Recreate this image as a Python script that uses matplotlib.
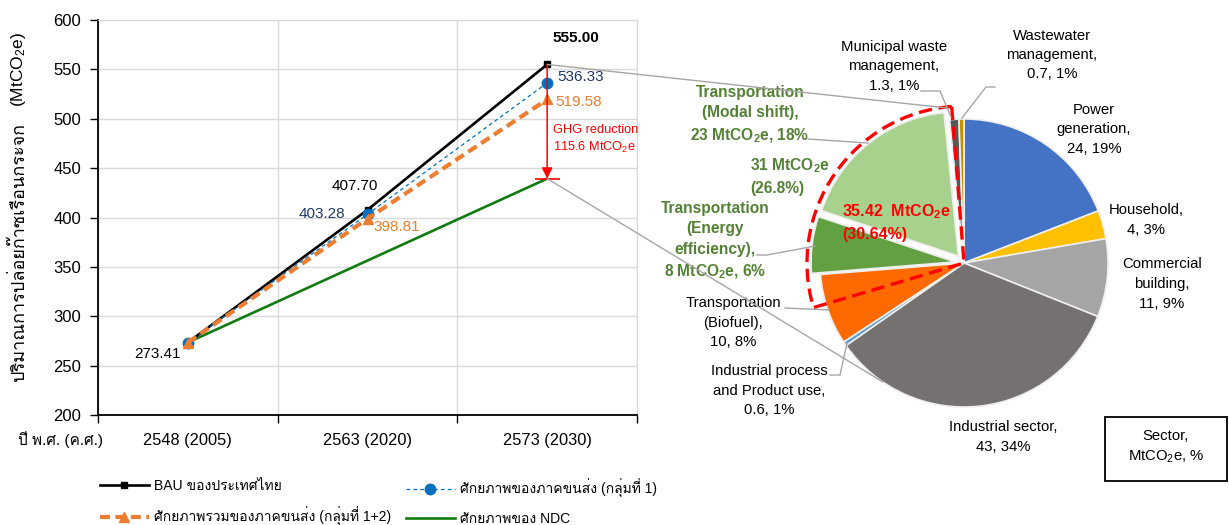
"""Thailand GHG emissions: BAU vs. transport-sector potential, with 2030 sector pie."""
import matplotlib
matplotlib.use("Agg")
import matplotlib.pyplot as plt
from matplotlib import font_manager
from matplotlib.lines import Line2D
from matplotlib.patches import ConnectionPatch, Rectangle, Wedge
from fontTools.ttLib import TTFont


def _font_with(char):
    """First installed family that has a glyph for `char`."""
    for entry in font_manager.fontManager.ttflist:
        try:
            cmap = TTFont(entry.fname, fontNumber=0, lazy=True).getBestCmap()
        except Exception:
            continue
        if cmap and ord(char) in cmap:
            return entry.name
    return None


_names = {f.name for f in font_manager.fontManager.ttflist}
NARROW = "Liberation Sans Narrow" if "Liberation Sans Narrow" in _names else "Liberation Sans"
THAI = _font_with("ก") or "DejaVu Sans"

plt.rcParams["font.family"] = [NARROW, THAI, "DejaVu Sans"]
plt.rcParams["mathtext.default"] = "regular"

# ---- line chart data -------------------------------------------------------
years = ["2548 (2005)", "2563 (2020)", "2573 (2030)"]
bau = [273.41, 407.70, 555.00]
transport_g1 = [273.41, 403.28, 536.33]
transport_g12 = [273.41, 398.81, 519.58]
ndc = [273.41, 356.4, 439.4]

# ---- pie data (2030, MtCO2e) -----------------------------------------------
sectors = [
    "Power\ngeneration,", "Household,", "Commercial\nbuilding,", "Industrial sector,",
    "Industrial process\nand Product use,", "Transportation\n(Biofuel),",
    "Transportation\n(Energy\nefficiency),", "Transportation\n(Modal shift),",
    "Municipal waste\nmanagement,", "Wastewater\nmanagement,",
]
sector_values = [24, 4, 11, 43, 0.6, 10, 8, 23, 1.3, 0.7]
sector_pct = [19, 3, 9, 34, 1, 8, 6, 18, 1, 1]
sector_colors = ["#4472C4", "#FFC000", "#A5A5A5", "#767171", "#5B9BD5",
                 "#FF6A00", "#63A042", "#A9D18E", "#595959", "#BF9000"]
sector_explode = [0, 0, 0, 0, 0, 0, 0.05, 0.05, 0, 0]

W, H = 1229, 525


def fx(x):
    return x / W


def fy(y):
    return 1 - y / H


def leader(points, color="#A6A6A6"):
    xs = [fx(p[0]) for p in points]
    ys = [fy(p[1]) for p in points]
    fig.add_artist(Line2D(xs, ys, transform=fig.transFigure, color=color, lw=1))


fig = plt.figure(figsize=(W / 100, H / 100), dpi=100)

# ---- left: emission pathways -------------------------------------------------
ax = fig.add_axes([fx(98), fy(415), 539 / W, 395 / H])
x = range(len(years))

ax.plot(x, ndc, color="#107C10", lw=1.9, zorder=3)
ax.plot(x, bau, color="black", lw=1.9, marker="s", ms=5, zorder=4)
ax.plot(x, transport_g1, color="#0070C0", lw=0.9, ls=(0, (3, 2.5)),
        marker="o", ms=7.5, zorder=5)
ax.plot(x, transport_g12, color="#ED7D31", lw=3, ls=(0, (2.4, 1.3)),
        marker="^", ms=7.5, zorder=6)

ax.set_xlim(-0.5, 2.5)
ax.set_ylim(200, 600)
ax.set_yticks(range(200, 601, 50))
ax.set_xticks(list(x))
ax.set_xticklabels(years, fontsize=11.8)
ax.set_xticks([-0.5, 0.5, 1.5, 2.5], minor=True)
ax.tick_params(axis="x", which="major", length=0, pad=13)
ax.tick_params(axis="x", which="minor", length=6, direction="out", width=1)
ax.tick_params(axis="y", length=6, direction="out", width=1, labelsize=12, pad=6)
ax.grid(axis="y", color="#D9D9D9", lw=1)
ax.grid(axis="x", which="minor", color="#D9D9D9", lw=1)
ax.set_axisbelow(True)
for side in ("top", "right"):
    ax.spines[side].set_color("#D9D9D9")
for side in ("left", "bottom"):
    ax.spines[side].set_linewidth(1.3)

# value labels: (series, index, offset in points, colour, weight)
value_labels = [
    (bau, 0, (-22, -8), "black", "normal"),
    (bau, 1, (-9, 17), "black", "normal"),
    (transport_g1, 1, (-33, 0), "#203864", "normal"),
    (transport_g12, 1, (21, -6), "#ED7D31", "normal"),
    (bau, 2, (21, 19), "black", "bold"),
    (transport_g1, 2, (24, 4), "#203864", "normal"),
    (transport_g12, 2, (23, -2), "#ED7D31", "normal"),
]
for series, i, off, col, wt in value_labels:
    ax.annotate(f"{series[i]:.2f}", (i, series[i]), xytext=off,
                textcoords="offset points", ha="center", va="center",
                fontsize=11, color=col, fontweight=wt)

# reduction arrow BAU -> NDC in 2030
ax.annotate("", xy=(2, ndc[2]), xytext=(2, bau[2]),
            arrowprops=dict(arrowstyle="-|>", color="red", lw=1.1,
                            mutation_scale=16, shrinkA=0, shrinkB=0), zorder=7)
ax.plot(2, ndc[2], marker="_", ms=18, mew=1.2, color="red", zorder=7)
reduction = bau[2] - ndc[2]
ax.annotate(f"GHG reduction\n{reduction:.1f} MtCO$_2$e", (2, bau[2]),
            xytext=(4, -54), textcoords="offset points", ha="left", va="center",
            fontsize=9.2, color="red", linespacing=1.4)

fig.text(fx(18), fy(440), "ปี พ.ศ. (ค.ศ.)", ha="left", va="center", fontsize=11)
fig.text(fx(19), fy(253), "ปริมาณการปล่อยก๊าซเรือนกระจก",
         rotation=90, ha="center", va="center", fontsize=13)
fig.text(fx(19), fy(70), "(MtCO$_2$e)",
         rotation=90, ha="center", va="center", fontsize=12.5)

# legend in two columns
h_bau = Line2D([], [], color="black", lw=1.9, marker="s", ms=5)
h_g1 = Line2D([], [], color="#0070C0", lw=0.9, ls=(0, (3, 2.5)), marker="o", ms=7.5)
h_g12 = Line2D([], [], color="#ED7D31", lw=3, ls=(0, (2.4, 1.3)), marker="^", ms=7.5)
h_ndc = Line2D([], [], color="#107C10", lw=1.9)
leg_kw = dict(frameon=False, fontsize=10, handlelength=3.5, handletextpad=0.4,
              labelspacing=1.0, loc="upper left", borderaxespad=0, borderpad=0)
fig.legend([h_bau, h_g12], ["BAU ของประเทศไทย", "ศักยภาพรวมของภาคขนส่ง (กลุ่มที่ 1+2)"],
           bbox_to_anchor=(fx(100), fy(479)), **leg_kw)
fig.legend([h_g1, h_ndc], ["ศักยภาพของภาคขนส่ง (กลุ่มที่ 1)", "ศักยภาพของ NDC"],
           bbox_to_anchor=(fx(406), fy(479)), **leg_kw)

# ---- right: 2030 sector breakdown -----------------------------------------------
S = 180
ax_pie = fig.add_axes([fx(964 - S), fy(263 + S), 2 * S / W, 2 * S / H])
ax_pie.pie(sector_values, colors=sector_colors, explode=sector_explode,
           startangle=90, counterclock=False, radius=144 / S,
           wedgeprops=dict(edgecolor="#EEEEEE", linewidth=1.2))
ax_pie.set_xlim(-1, 1)
ax_pie.set_ylim(-1, 1)
ax_pie.axis("off")
ax_pie.add_patch(Wedge((0, 0), 157 / S, 94.5, 196.5, fill=False, edgecolor="red",
                       lw=2.4, ls=(0, (4, 2)), zorder=5))

# connectors from the 2030 points to the highlighted wedge
for val, end in ((bau[2], (947, 108)), (ndc[2], (883, 382))):
    fig.add_artist(ConnectionPatch(xyA=(2, val), coordsA=ax.transData,
                                   xyB=(fx(end[0]), fy(end[1])), coordsB=fig.transFigure,
                                   color="#A6A6A6", lw=1, zorder=8))

# sector labels: index -> centre (px)
label_pos = {
    0: (1094, 129), 1: (1146, 220), 2: (1162, 284), 3: (1003, 437),
    4: (769, 391), 5: (733, 323), 8: (894, 66), 9: (1052, 55),
}
for i, (px, py) in label_pos.items():
    fig.text(fx(px), fy(py), f"{sectors[i]}\n{sector_values[i]}, {sector_pct[i]}%",
             ha="center", va="center", fontsize=10.7, linespacing=1.5)

GREEN = "#548235"
bold_kw = dict(family=["Liberation Sans", "DejaVu Sans"], fontweight="bold",
               ha="center", va="center", fontsize=11.2, color=GREEN, linespacing=1.45)
for i, (px, py) in {6: (715, 241), 7: (750, 115)}.items():
    fig.text(fx(px), fy(py),
             f"{sectors[i]}\n{sector_values[i]} MtCO$_2$e, {sector_pct[i]}%", **bold_kw)
transport_total = 31
fig.text(fx(750), fy(176), f"{transport_total} MtCO$_2$e\n(26.8%)",
         **{**bold_kw, "ha": "left"})
fig.text(fx(842), fy(222), "35.42  MtCO$_2$e\n(30.64%)",
         **{**bold_kw, "ha": "left", "color": "red", "fontsize": 11.5, "linespacing": 1.5})

leader([(921, 91), (940, 91), (951, 117)])
leader([(995, 87), (986, 87), (962, 118)])
leader([(808, 139), (868, 143)])
leader([(757, 255), (767, 255), (815, 246)])
leader([(785, 308), (829, 310)])
leader([(830, 375), (840, 375), (847, 343)])

fig.add_artist(Rectangle((fx(1105), fy(481)), 122 / W, 64 / H, transform=fig.transFigure,
                         fill=False, edgecolor="black", lw=1.3))
fig.text(fx(1166), fy(447), "Sector,\nMtCO$_2$e, %", ha="center", va="center",
         fontsize=10.7, linespacing=1.5)

fig.savefig("out.png", dpi=100)
plt.close(fig)
